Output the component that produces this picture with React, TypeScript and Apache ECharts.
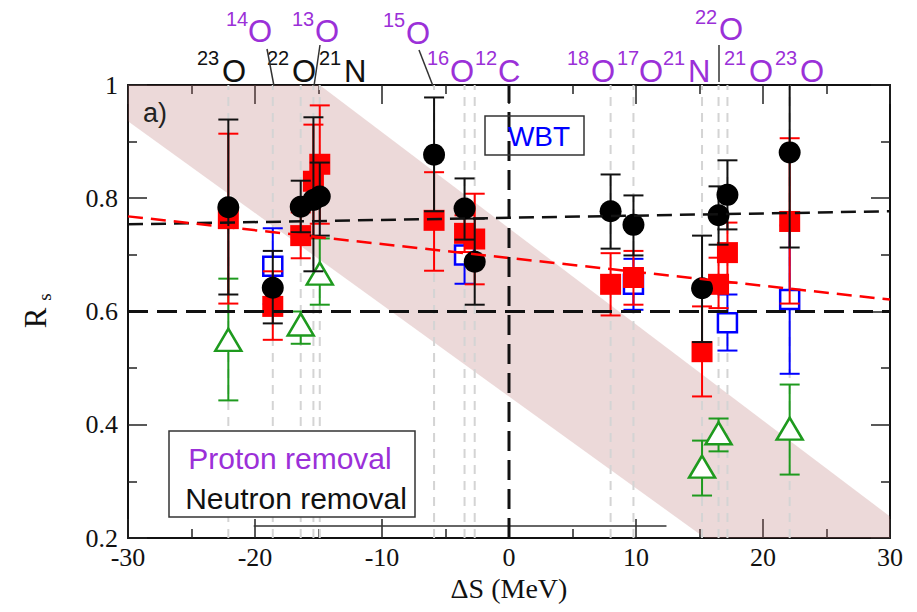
import React, { useEffect, useRef } from 'react';
import * as echarts from 'echarts';

// ---------- data ----------
const X_MIN = -30;
const X_MAX = 30;
const Y_MIN = 0.2;
const Y_MAX = 1;
const yTickLabels = ['0.2', '0.4', '0.6', '0.8', '1'];

// x positions of the measured nuclei (grey dashed guides)
const markerX = [-22.1, -18.6, -16.4, -15.4, -14.9, -5.9, -3.5, -2.7, 8.0, 9.8, 15.2, 16.5, 17.2, 22.1];

// [ΔS, Rs, low, high]
const blackPoints = [
  [-22.1, 0.784, 0.63, 0.939],
  [-18.6, 0.642, 0.579, 0.707],
  [-16.4, 0.785, 0.74, 0.831],
  [-15.4, 0.797, 0.671, 0.943],
  [-14.9, 0.803, 0.734, 0.863],
  [-5.9, 0.877, 0.777, 0.978],
  [-3.5, 0.782, 0.727, 0.835],
  [-2.7, 0.688, 0.612, 0.764],
  [8.0, 0.777, 0.711, 0.842],
  [9.8, 0.753, 0.699, 0.805],
  [15.2, 0.641, 0.546, 0.734],
  [16.5, 0.77, 0.718, 0.821],
  [17.2, 0.806, 0.745, 0.867],
  [22.1, 0.881, 0.713, 1.05],
];
const redPoints = [
  [-22.1, 0.764, 0.614, 0.914],
  [-18.6, 0.609, 0.55, 0.671],
  [-16.4, 0.734, 0.694, 0.775],
  [-15.4, 0.83, 0.73, 0.93],
  [-14.9, 0.86, 0.755, 0.964],
  [-5.9, 0.761, 0.672, 0.846],
  [-3.5, 0.738, 0.705, 0.77],
  [-2.7, 0.728, 0.648, 0.808],
  [8.0, 0.648, 0.593, 0.703],
  [9.8, 0.66, 0.612, 0.707],
  [15.2, 0.529, 0.45, 0.609],
  [16.5, 0.648, 0.606, 0.695],
  [17.2, 0.704, 0.651, 0.757],
  [22.1, 0.759, 0.614, 0.906],
];
const bluePoints = [
  [-18.6, 0.68, 0.613, 0.747],
  [-3.5, 0.7, 0.649, 0.751],
  [9.8, 0.648, 0.603, 0.693],
  [17.2, 0.58, 0.531, 0.63],
  [22.1, 0.621, 0.49, 0.752],
];
const greenPoints = [
  [-22.1, 0.55, 0.443, 0.658],
  [-16.4, 0.577, 0.543, 0.6],
  [-14.9, 0.667, 0.612, 0.729],
  [15.2, 0.326, 0.275, 0.372],
  [16.5, 0.385, 0.353, 0.411],
  [22.1, 0.393, 0.312, 0.471],
];

const neutronFit = [[-30, 0.754], [30, 0.777]];
const protonFit = [[-30, 0.768], [30, 0.621]];
const referenceLevel = [[-30, 0.6], [30, 0.6]];
const zeroLine = [[0, 0.2], [0, 1]];
const bandUpper = [[-30, 1.256], [30, 0.238]];
const bandLower = [[-30, 0.936], [30, -0.036]];
const bottomBracket = [[-20.1, 0.221], [12.4, 0.221]];

// isotope labels above the frame
const isotopeLabels = [
  { mass: '23', sym: 'O', proton: false },
  { mass: '22', sym: 'O', proton: false },
  { mass: '21', sym: 'N', proton: false },
  { mass: '16', sym: 'O', proton: true },
  { mass: '12', sym: 'C', proton: true },
  { mass: '18', sym: 'O', proton: true },
  { mass: '17', sym: 'O', proton: true },
  { mass: '21', sym: 'N', proton: true },
  { mass: '21', sym: 'O', proton: true },
  { mass: '23', sym: 'O', proton: true },
  { mass: '14', sym: 'O', proton: true },
  { mass: '13', sym: 'O', proton: true },
  { mass: '15', sym: 'O', proton: true },
  { mass: '22', sym: 'O', proton: true },
];
// layout of those labels: [supLeft, symLeft, supCenterY, symCenterY]
const isotopeLayout = [
  [197, 222, 58, 71.5],
  [267, 292, 58, 71.5],
  [319, 344, 58, 71.5],
  [427, 450, 58, 71.5],
  [475, 498, 58, 71.5],
  [567, 591, 58, 71.5],
  [617, 639, 58, 71.5],
  [663, 688, 58, 71.5],
  [724, 749, 58, 71.5],
  [775, 800, 58, 71.5],
  [226, 248, 18.5, 31.5],
  [292, 315, 18.5, 31.5],
  [383, 406, 19.5, 33],
  [695, 719, 16.5, 29.5],
];
const leaderLines = [
  [267, 49, 274, 86],
  [320, 45, 314, 86],
  [419, 50, 433, 86],
  [719, 45, 719, 82],
];

// ---------- styles ----------
const PURPLE = '#9b30d8';
const SANS = '"Liberation Sans", Arial, Helvetica, sans-serif';
const SERIF = '"Liberation Serif", "Times New Roman", serif';

const lineAt = (l: number[][], x: number) =>
  l[0][1] + ((l[1][1] - l[0][1]) * (x - l[0][0])) / (l[1][0] - l[0][0]);
const xWhere = (l: number[][], y: number) =>
  l[0][0] + ((y - l[0][1]) * (l[1][0] - l[0][0])) / (l[1][1] - l[0][1]);

function bandPolygon() {
  const xu = xWhere(bandUpper, Y_MAX);
  const xl = xWhere(bandLower, Y_MIN);
  const inRange = (x: number) => x >= X_MIN && x <= X_MAX;
  const top = [X_MIN, xu, X_MAX]
    .filter(inRange)
    .sort((a, b) => a - b)
    .map((x) => [x, Math.max(Y_MIN, Math.min(lineAt(bandUpper, x), Y_MAX))]);
  const bot = [X_MIN, xl, X_MAX]
    .filter(inRange)
    .sort((a, b) => b - a)
    .map((x) => [x, Math.min(Y_MAX, Math.max(lineAt(bandLower, x), Y_MIN))]);
  return top.concat(bot);
}

function errorBars(points: number[][], color: string, z: number) {
  return {
    type: 'custom',
    z,
    silent: true,
    data: points,
    encode: { x: 0, y: 1 },
    renderItem: (_p: any, api: any) => {
      const x = api.value(0);
      const lo = api.value(2);
      const hi = api.value(3);
      const pHi = api.coord([x, Math.min(hi, Y_MAX)]);
      const pLo = api.coord([x, Math.max(lo, Y_MIN)]);
      const st = { stroke: color, lineWidth: 2 };
      const children: any[] = [
        { type: 'line', shape: { x1: pHi[0], y1: pHi[1], x2: pLo[0], y2: pLo[1] }, style: st },
      ];
      if (hi <= Y_MAX) children.push({ type: 'line', shape: { x1: pHi[0] - 10, y1: pHi[1], x2: pHi[0] + 10, y2: pHi[1] }, style: st });
      if (lo >= Y_MIN) children.push({ type: 'line', shape: { x1: pLo[0] - 10, y1: pLo[1], x2: pLo[0] + 10, y2: pLo[1] }, style: st });
      return { type: 'group', children };
    },
  };
}

function dashed(data: number[][], color: string, width: number, dash: any, z: number) {
  return {
    type: 'line',
    data,
    z,
    silent: true,
    showSymbol: false,
    symbol: 'none',
    lineStyle: { color, width, type: dash },
  };
}

function text(x: number, y: number, t: string, size: number, color: string, family = SANS, align = 'left', rotation = 0, lh?: number) {
  return {
    type: 'text',
    x,
    y,
    rotation,
    z: 100,
    style: {
      text: t,
      fill: color,
      fontSize: size,
      fontFamily: family,
      lineHeight: lh ?? size,
      align,
      verticalAlign: 'middle',
      textAlign: align,
      textVerticalAlign: 'middle',
    },
  };
}

export default function App() {
  const ref = useRef<HTMLDivElement>(null);

  useEffect(() => {
    if (!ref.current) return;
    const chart = echarts.init(ref.current, undefined, { renderer: 'svg' });
    const poly = bandPolygon();

    const axisLine = { show: true, onZero: false, lineStyle: { color: '#111', width: 2 } };
    const xCommon = {
      type: 'value',
      min: X_MIN,
      max: X_MAX,
      interval: 10,
      splitLine: { show: false },
      axisLine,
      axisTick: { show: true, inside: true, length: 19, lineStyle: { color: '#222', width: 1.5 } },
      minorTick: { show: true, splitNumber: 2, length: 9, lineStyle: { color: '#222', width: 1.5 } },
      minorSplitLine: { show: false },
    };
    const yCommon = {
      type: 'value',
      min: Y_MIN,
      max: Y_MAX,
      interval: 0.2,
      splitLine: { show: false },
      axisLine,
      axisTick: { show: true, inside: true, length: 19, lineStyle: { color: '#222', width: 1.5 } },
      minorTick: { show: true, splitNumber: 2, length: 9, lineStyle: { color: '#222', width: 1.5 } },
      minorSplitLine: { show: false },
    };

    const graphics: any[] = [];
    isotopeLabels.forEach((lab, i) => {
      const [sx, mx, sy, my] = isotopeLayout[i];
      const c = lab.proton ? PURPLE : '#111';
      graphics.push(text(sx, sy, lab.mass, 20, c, SANS, 'left', 0, 15));
      graphics.push(text(mx, my, lab.sym, 31, c, SANS, 'left', 0, 22));
    });
    leaderLines.forEach((l) => {
      graphics.push({ type: 'line', z: 100, shape: { x1: l[0], y1: l[1], x2: l[2], y2: l[3] }, style: { stroke: '#333', lineWidth: 1.5 } });
    });
    graphics.push(text(143, 113, 'a)', 27, '#222'));
    graphics.push({ type: 'rect', z: 100, shape: { x: 485, y: 116, width: 99, height: 39 }, style: { fill: 'none', stroke: '#333', lineWidth: 1.5 } });
    graphics.push(text(539, 136, 'WBT', 28, '#0000ff', SANS, 'center'));
    graphics.push({ type: 'rect', z: 100, shape: { x: 169, y: 431, width: 246, height: 86 }, style: { fill: '#fff', stroke: '#333', lineWidth: 1.5 } });
    graphics.push(text(290, 458, 'Proton removal', 30, PURPLE, SANS, 'center'));
    graphics.push(text(296, 498, 'Neutron removal', 30, '#111', SANS, 'center'));
    graphics.push(text(35, 318, 'R', 31, '#111', SERIF, 'center', Math.PI / 2));
    graphics.push(text(44, 297, 's', 19, '#111', SERIF, 'center', Math.PI / 2));

    const option: any = {
      animation: false,
      backgroundColor: '#fff',
      grid: { left: 128, right: 27, top: 85, bottom: 74 },
      xAxis: [
        {
          ...xCommon,
          position: 'bottom',
          name: 'ΔS (MeV)',
          nameLocation: 'middle',
          nameGap: 36,
          nameTextStyle: { fontFamily: SERIF, fontSize: 28, color: '#111' },
          axisLabel: { show: true, margin: 6, fontFamily: SERIF, fontSize: 26, color: '#111', formatter: (v: number) => String(Math.round(v)) },
        },
        { ...xCommon, position: 'top', axisLabel: { show: false } },
      ],
      yAxis: [
        {
          ...yCommon,
          position: 'left',
          axisLabel: {
            show: true,
            margin: 10,
            fontFamily: SERIF,
            fontSize: 26,
            color: '#111',
            formatter: (v: number) => yTickLabels[Math.round((v - Y_MIN) / 0.2)] ?? '',
          },
        },
        { ...yCommon, position: 'right', axisLabel: { show: false } },
      ],
      graphic: graphics,
      series: [
        {
          type: 'custom',
          z: 1,
          silent: true,
          data: [[0, 0.5]],
          renderItem: (_p: any, api: any) => ({
            type: 'polygon',
            shape: { points: poly.map((p) => api.coord(p)) },
            style: { fill: 'rgba(180,105,105,0.25)' },
          }),
        },
        {
          type: 'custom',
          z: 2,
          silent: true,
          data: markerX.map((x) => [x, 0.5]),
          renderItem: (_p: any, api: any) => {
            const x = api.value(0);
            const a = api.coord([x, Y_MIN]);
            const b = api.coord([x, Y_MAX]);
            return {
              type: 'line',
              shape: { x1: a[0], y1: a[1], x2: b[0], y2: b[1] },
              style: { stroke: '#d4d4d4', lineWidth: 2, lineDash: [9, 7] },
            };
          },
        },
        dashed(bottomBracket, '#333', 1.5, 'solid', 3),
        errorBars(greenPoints, '#1e9a1e', 4),
        {
          type: 'scatter',
          z: 5,
          silent: true,
          data: greenPoints.map((p) => [p[0], p[1]]),
          symbol: 'triangle',
          symbolSize: [26, 22],
          itemStyle: { color: '#fff', borderColor: '#1e9a1e', borderWidth: 2.5, opacity: 1 },
        },
        errorBars(bluePoints, '#0000ff', 6),
        {
          type: 'scatter',
          z: 7,
          silent: true,
          data: bluePoints.map((p) => [p[0], p[1]]),
          symbol: 'rect',
          symbolSize: 19,
          itemStyle: { color: '#fff', borderColor: '#0000ff', borderWidth: 2.5, opacity: 1 },
        },
        errorBars(redPoints, '#ff0000', 8),
        {
          type: 'scatter',
          z: 9,
          silent: true,
          data: redPoints.map((p) => [p[0], p[1]]),
          symbol: 'rect',
          symbolSize: 21,
          itemStyle: { color: '#ff0000', opacity: 1 },
        },
        errorBars(blackPoints, '#111', 10),
        {
          type: 'scatter',
          z: 11,
          silent: true,
          data: blackPoints.map((p) => [p[0], p[1]]),
          symbol: 'circle',
          symbolSize: 22,
          itemStyle: { color: '#000', opacity: 1 },
        },
        dashed(neutronFit, '#111', 2.5, [15, 8], 12),
        dashed(protonFit, '#ff0000', 2.5, [15, 8], 12),
        dashed(referenceLevel, '#111', 3, [20, 9], 12),
        dashed(zeroLine, '#111', 3, [20, 9], 12),
      ],
    };
    chart.setOption(option);
    return () => chart.dispose();
  }, []);

  return (
    <div
      ref={ref}
      style={{ position: 'fixed', left: 0, top: 0, width: 917, height: 612, background: '#fff' }}
    />
  );
}
